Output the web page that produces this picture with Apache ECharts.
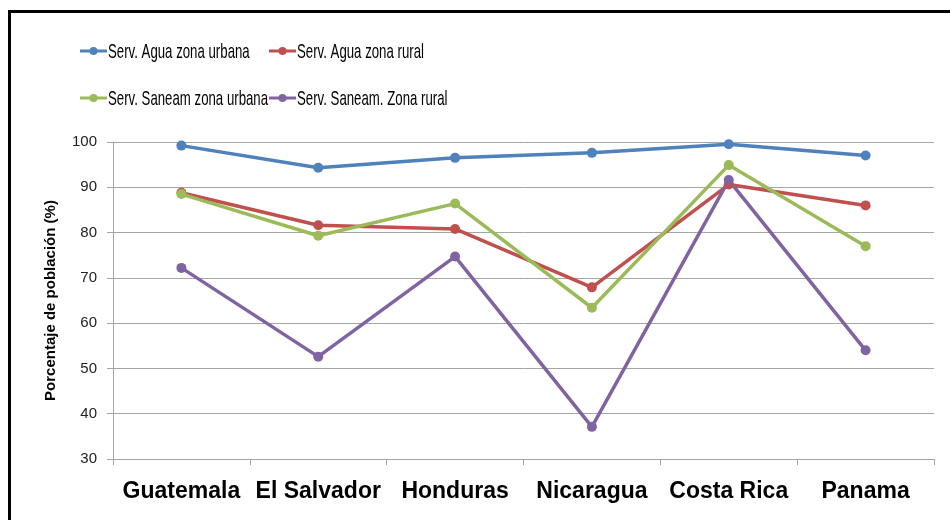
<!DOCTYPE html>
<html>
<head>
<meta charset="utf-8">
<script src="https://cdn.jsdelivr.net/npm/echarts@6/dist/echarts.min.js"></script>
<style>html,body{margin:0;padding:0;background:#fff}#c{width:950px;height:520px}</style>
</head>
<body>
<div id="c"></div>
<script>
const categories = ['Guatemala', 'El Salvador', 'Honduras', 'Nicaragua', 'Costa Rica', 'Panama'];
const seriesNames = ['Serv. Agua zona urbana', 'Serv. Agua zona rural', 'Serv. Saneam zona urbana', 'Serv. Saneam. Zona rural'];
const aguaUrbana = [99.2, 94.3, 96.5, 97.6, 99.5, 97.0];
const aguaRural = [88.8, 81.6, 80.8, 67.9, 90.6, 86.0];
const saneamUrbana = [88.5, 79.3, 86.4, 63.4, 94.9, 77.0];
const saneamRural = [72.2, 52.6, 74.7, 37.1, 91.6, 54.0];
const yTicks = { min: 30, max: 100, interval: 10 };
const colors = ['#4F81BD', '#C0504D', '#9BBB59', '#8064A2'];
const seriesData = [aguaUrbana, aguaRural, saneamUrbana, saneamRural];

const chart = echarts.init(document.getElementById('c'), null, { renderer: 'canvas' });

// Legend drawn as graphic items (condensed text to mimic the original narrow font)
const legendPos = [[80, 51], [269, 51], [80, 98], [269, 98]];
const legendGraphics = [];
seriesNames.forEach((n, i) => {
  const [lx, ly] = legendPos[i];
  legendGraphics.push({
    type: 'group', x: lx, y: ly, silent: true,
    children: [
      { type: 'line', shape: { x1: 0, y1: 0, x2: 27, y2: 0 }, style: { stroke: colors[i], lineWidth: 3 } },
      { type: 'circle', shape: { cx: 13.5, cy: 0, r: 4 }, style: { fill: colors[i] } },
      { type: 'text', x: 28, y: 1, scaleX: 0.63,
        style: { text: n, fill: '#000', font: '21px "Liberation Sans", Arial, sans-serif', textVerticalAlign: 'middle', textAlign: 'left' } }
    ]
  });
});

const option = {
  animation: false,
  color: colors,
  graphic: [{
    type: 'rect', shape: { x: 9.5, y: 11.5, width: 1000, height: 600 },
    style: { fill: 'none', stroke: '#000', lineWidth: 3 }, z: 100, silent: true
  }].concat(legendGraphics),
  grid: { left: 113, right: 16, top: 142, bottom: 61, containLabel: false },
  xAxis: {
    type: 'category', data: categories, boundaryGap: true,
    axisLine: { lineStyle: { color: '#a6a6a6', width: 1 } },
    axisTick: { show: true, length: 6, lineStyle: { color: '#a6a6a6' } },
    axisLabel: { margin: 21, fontFamily: 'Liberation Sans, Arial, sans-serif', fontWeight: 'bold', fontSize: 23, color: '#000', interval: 0 }
  },
  yAxis: {
    type: 'value', min: yTicks.min, max: yTicks.max, interval: yTicks.interval,
    name: 'Porcentaje de población (%)', nameLocation: 'middle', nameGap: 55,
    nameTextStyle: { fontFamily: 'Liberation Sans, Arial, sans-serif', fontWeight: 'bold', fontSize: 15, color: '#000' },
    axisLine: { show: true, lineStyle: { color: '#a6a6a6', width: 1 } },
    axisTick: { show: true, length: 6, lineStyle: { color: '#a6a6a6' } },
    axisLabel: { margin: 16, fontFamily: 'Liberation Sans, Arial, sans-serif', fontSize: 15, color: '#222' },
    splitLine: { lineStyle: { color: '#a6a6a6', width: 1 } }
  },
  series: seriesNames.map((n, i) => ({
    name: n, type: 'line', data: seriesData[i],
    symbol: 'circle', symbolSize: 10,
    lineStyle: { width: 3.5, color: colors[i] },
    itemStyle: { color: colors[i] }
  }))
};
chart.setOption(option);
</script>
</body>
</html>
